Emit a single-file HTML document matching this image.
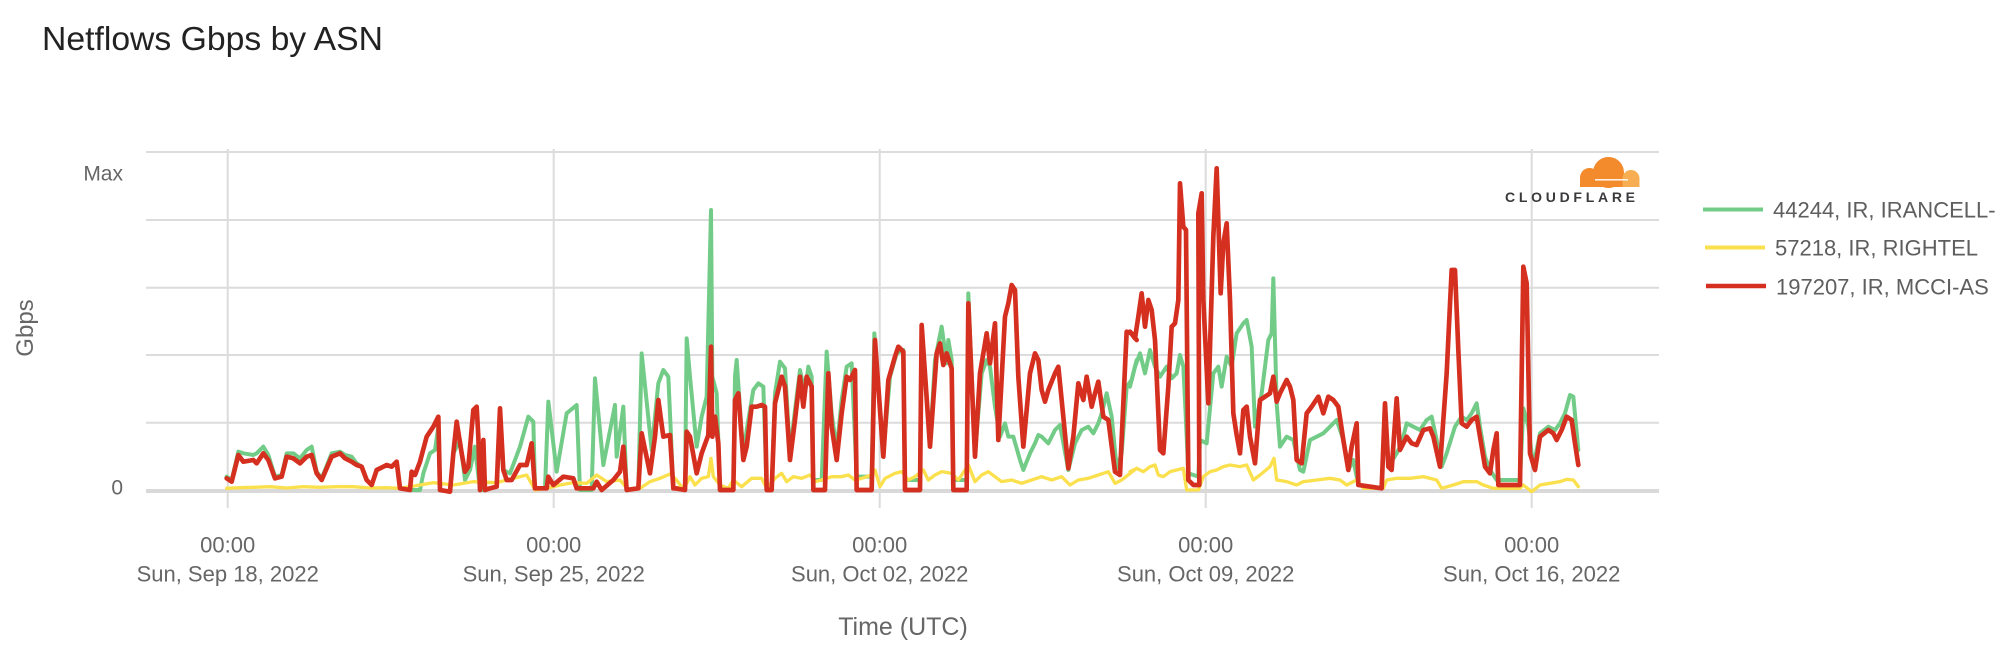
<!DOCTYPE html>
<html><head><meta charset="utf-8"><style>
html,body{margin:0;padding:0;background:#fff;}
svg{display:block;font-family:"Liberation Sans",Arial,sans-serif;}
</style></head><body>
<svg width="2016" height="652" viewBox="0 0 2016 652" xmlns="http://www.w3.org/2000/svg">
<rect width="2016" height="652" fill="#fff"/>
<text x="42" y="50" font-size="33.5" fill="#222" textLength="341" lengthAdjust="spacingAndGlyphs">Netflows Gbps by ASN</text>

<g stroke="#dcdcdc" stroke-width="2" fill="none">
<line x1="146" y1="152" x2="1659" y2="152"/>
<line x1="146" y1="220" x2="1659" y2="220"/>
<line x1="146" y1="287.7" x2="1659" y2="287.7"/>
<line x1="146" y1="355" x2="1659" y2="355"/>
<line x1="146" y1="422.7" x2="1659" y2="422.7"/>
<line x1="227.7" y1="149" x2="227.7" y2="508"/>
<line x1="553.7" y1="149" x2="553.7" y2="508"/>
<line x1="879.7" y1="149" x2="879.7" y2="508"/>
<line x1="1205.7" y1="149" x2="1205.7" y2="508"/>
<line x1="1531.7" y1="149" x2="1531.7" y2="508"/>
</g>
<line x1="146" y1="491" x2="1659" y2="491" stroke="#d9d9d9" stroke-width="4"/>

<g font-size="21" fill="#666" text-anchor="end">
<text x="123" y="180.5">Max</text>
<text x="123" y="494.5">0</text>
</g>
<text transform="translate(33,328) rotate(-90)" font-size="24" fill="#666" text-anchor="middle">Gbps</text>

<g font-size="22" fill="#666" text-anchor="middle">
<text x="227.7" y="552.7">00:00</text><text x="227.7" y="581.7">Sun, Sep 18, 2022</text>
<text x="553.7" y="552.7">00:00</text><text x="553.7" y="581.7">Sun, Sep 25, 2022</text>
<text x="879.7" y="552.7">00:00</text><text x="879.7" y="581.7">Sun, Oct 02, 2022</text>
<text x="1205.7" y="552.7">00:00</text><text x="1205.7" y="581.7">Sun, Oct 09, 2022</text>
<text x="1531.7" y="552.7">00:00</text><text x="1531.7" y="581.7">Sun, Oct 16, 2022</text>
</g>
<text x="903" y="635" font-size="25" fill="#666" text-anchor="middle">Time (UTC)</text>

<!-- cloudflare logo -->
<g>
<circle cx="1589.5" cy="177.5" r="9.5" fill="#f38a2c"/>
<circle cx="1608.5" cy="172.5" r="15.5" fill="#f38a2c"/>
<rect x="1580" y="177" width="48" height="10" fill="#f38a2c"/>
<circle cx="1631" cy="178.5" r="8.5" fill="#f7ad52"/>
<rect x="1622.5" y="178.5" width="17" height="8.5" fill="#f7ad52"/>
<line x1="1595" y1="179.8" x2="1628" y2="179.8" stroke="#fff" stroke-width="1.3"/>
<text x="1505" y="202" font-size="14" font-weight="bold" fill="#3a3a3c" textLength="130" lengthAdjust="spacing">CLOUDFLARE</text>
</g>

<!-- legend -->
<g stroke-width="4">
<line x1="1703" y1="209.5" x2="1763" y2="209.5" stroke="#72cc87"/>
<line x1="1705" y1="247.5" x2="1765" y2="247.5" stroke="#fbe04e"/>
<line x1="1706" y1="286" x2="1766" y2="286" stroke="#d52f20" stroke-width="4.5"/>
</g>
<g font-size="22" fill="#5e5e5e">
<text x="1773" y="217.5">44244, IR, IRANCELL-</text>
<text x="1775" y="255.5">57218, IR, RIGHTEL</text>
<text x="1776" y="294.5">197207, IR, MCCI-AS</text>
</g>

<!-- series (coordinates in 3x crop space; stroke widths scaled accordingly) -->
<g fill="none" stroke-linejoin="round" stroke-linecap="round">
<!-- crop 1 -->
<g transform="translate(220,160) scale(0.33333)">
<polyline stroke="#72cc87" stroke-width="12" points="20,950 35,960 55,875 70,880 100,885 110,880 130,860 145,885 165,950 185,945 200,880 220,880 240,895 260,870 275,860 290,935 305,955 335,880 360,875 375,885 395,890 410,910 425,920 440,960 455,975 470,930 500,915 515,920 530,905 540,985 570,990 600,990 610,940 630,880 645,870 655,800 660,990 690,995 700,880 720,840 735,960 750,930 765,860 780,990 795,990 810,985 830,980 840,800 850,930 870,940 900,860 925,770 940,785 945,985 975,985 985,725 1010,935 1040,760 1070,735 1080,990 1115,990 1125,655 1150,915 1185,735 1190,890 1210,740 1220,990 1255,985 1265,580 1295,870 1315,670 1330,630 1345,650 1360,985 1385,985"/>
<polyline stroke="#fbe04e" stroke-width="10" points="20,985 60,983 100,982 150,980 200,984 250,980 300,982 350,980 400,980 450,984 500,983 540,985 600,975 640,968 700,975 760,965 830,968 880,955 920,945 945,990 980,985 1020,975 1060,968 1100,970 1130,945 1160,965 1200,960 1225,990 1260,985 1290,965 1320,955 1350,942 1365,955 1385,980"/>
<polyline stroke="#d52f20" stroke-width="14" points="20,955 35,965 55,885 70,905 100,900 110,910 130,880 145,900 165,955 185,950 200,890 220,895 240,910 260,890 275,885 290,940 305,960 335,890 360,880 375,895 395,905 410,915 425,920 440,960 455,975 470,930 500,915 515,920 530,905 540,985 570,990 575,935 585,945 600,905 620,830 640,800 655,770 660,990 690,995 700,880 710,785 725,880 735,935 745,920 760,750 770,740 775,830 780,990 790,840 795,990 810,985 830,980 840,745 850,930 860,960 875,960 900,915 920,915 935,850 945,985 980,985 985,950 1000,975 1030,950 1060,955 1070,985 1120,985 1130,965 1145,990 1180,960 1200,935 1210,860 1220,990 1255,985 1265,820 1290,940 1305,830 1315,720 1330,830 1350,825 1360,985 1385,985"/>
</g>
<!-- crop 2 -->
<g transform="translate(675,160) scale(0.33333)">
<polyline stroke="#72cc87" stroke-width="12" points="0,985 30,990 35,535 45,650 65,860 80,770 95,710 108,150 112,650 125,700 135,990 175,990 180,650 185,600 205,890 215,810 235,690 250,670 265,680 275,990 290,990 300,700 315,605 330,625 345,880 360,750 375,630 390,700 400,620 410,650 415,960 440,960 455,575 470,760 485,870 500,720 515,620 530,610 545,950 590,950 598,520 625,880 645,650 665,580 685,570 690,960 735,960 740,520 765,850 780,600 800,500 815,610 820,540 830,600 835,960 875,960 880,400 900,880 920,640 935,600 945,620 960,740 975,830 990,790 1000,830 1015,830 1035,900 1045,930 1065,880 1080,850 1090,825 1100,830 1120,850 1140,810 1155,795 1180,930 1200,850 1220,810 1240,800 1255,820 1270,790 1280,760 1295,700 1310,770 1325,925 1340,880 1355,680 1370,660 1385,600"/>
<polyline stroke="#fbe04e" stroke-width="10" points="0,985 30,980 45,950 60,975 80,955 100,950 108,895 115,950 135,975 160,985 175,960 200,980 230,955 260,955 275,985 300,955 320,940 335,965 355,950 380,955 405,945 420,965 440,960 470,950 500,950 520,945 540,960 560,955 590,945 600,930 615,980 630,955 660,940 680,935 700,960 720,950 745,930 760,960 780,945 800,935 830,940 850,960 880,915 900,965 920,945 940,935 960,950 980,965 1010,960 1040,970 1070,960 1100,950 1130,960 1160,950 1185,975 1210,960 1240,955 1270,945 1300,935 1320,970 1340,960 1385,925"/>
<polyline stroke="#d52f20" stroke-width="14" points="0,985 30,990 35,815 45,830 65,940 80,880 100,825 108,560 112,830 120,770 130,850 135,990 175,990 180,720 190,700 205,900 215,860 230,740 245,740 260,735 270,740 275,990 290,990 300,730 320,650 330,680 345,900 360,780 375,650 385,740 395,650 410,680 415,990 450,990 460,640 470,800 485,900 500,760 515,650 525,660 540,630 545,990 590,990 600,540 625,890 640,660 660,590 670,560 685,575 690,990 735,990 740,495 765,860 785,580 795,550 805,615 815,580 830,625 835,990 875,990 880,430 900,890 915,640 935,520 945,610 960,490 970,840 990,470 1000,430 1010,375 1020,390 1030,650 1045,860 1065,640 1080,580 1090,600 1100,690 1110,725 1120,690 1140,640 1150,620 1160,720 1180,925 1195,830 1210,670 1225,720 1235,650 1250,740 1260,700 1270,665 1285,770 1300,780 1320,935 1335,945 1355,515 1370,520 1385,540"/>
</g>
<!-- crop 3 -->
<g transform="translate(1130,160) scale(0.33333)">
<polyline stroke="#72cc87" stroke-width="12" points="0,680 15,620 30,580 45,640 60,570 75,620 90,650 110,620 125,655 140,640 150,585 160,620 165,720 175,940 205,950 210,840 230,850 250,640 265,620 275,680 290,590 305,620 320,520 340,490 350,480 365,560 375,800 395,700 415,540 425,520 430,355 440,730 450,860 470,830 490,840 510,930 520,935 540,840 560,830 580,820 600,800 620,780 640,840 655,930 670,900 685,975 755,985 765,740 775,920 800,880 815,850 830,790 850,800 870,810 890,780 905,770 920,840 935,920 950,880 975,800 995,770 1010,780 1025,760 1040,730 1050,800 1065,890 1080,930 1100,960 1170,960 1180,745 1195,800 1210,920 1230,820 1255,800 1275,810 1290,790 1305,760 1320,705 1330,710 1345,870"/>
<polyline stroke="#fbe04e" stroke-width="10" points="0,935 20,925 40,935 60,920 75,915 85,945 100,950 120,935 140,930 160,925 170,990 205,990 220,950 240,935 260,930 280,920 300,915 330,920 350,915 370,960 390,945 420,920 432,895 440,960 470,965 500,975 520,965 560,960 600,955 630,960 650,975 680,960 700,985 760,985 770,960 800,955 840,955 880,950 920,960 935,985 970,975 1000,965 1040,965 1060,975 1090,985 1170,985 1180,975 1205,995 1230,975 1260,970 1290,965 1310,958 1330,960 1345,980"/>
<polyline stroke="#d52f20" stroke-width="14" points="0,515 15,535 25,470 35,400 45,500 55,420 65,450 75,540 90,870 100,880 115,680 125,500 135,490 145,420 150,70 160,200 168,210 175,960 190,975 208,975 205,160 215,100 220,420 235,730 250,230 260,25 272,400 280,250 290,190 300,420 310,760 320,825 330,880 340,750 350,740 360,830 375,910 390,720 405,710 420,700 430,650 440,725 450,700 460,680 470,660 480,680 490,720 500,900 515,910 530,760 545,740 565,710 580,760 595,710 610,720 625,740 640,840 655,930 665,860 680,790 685,975 755,985 765,730 775,920 785,930 800,715 810,870 830,830 845,850 860,855 880,810 900,805 910,830 930,920 950,640 965,330 975,330 985,570 995,790 1010,800 1025,780 1040,770 1050,830 1065,920 1080,940 1090,870 1100,820 1105,975 1170,975 1180,320 1190,370 1200,880 1215,930 1230,830 1255,810 1270,820 1280,840 1295,810 1310,770 1325,780 1335,850 1345,915"/>
</g>
</g>
</svg>
</body></html>
